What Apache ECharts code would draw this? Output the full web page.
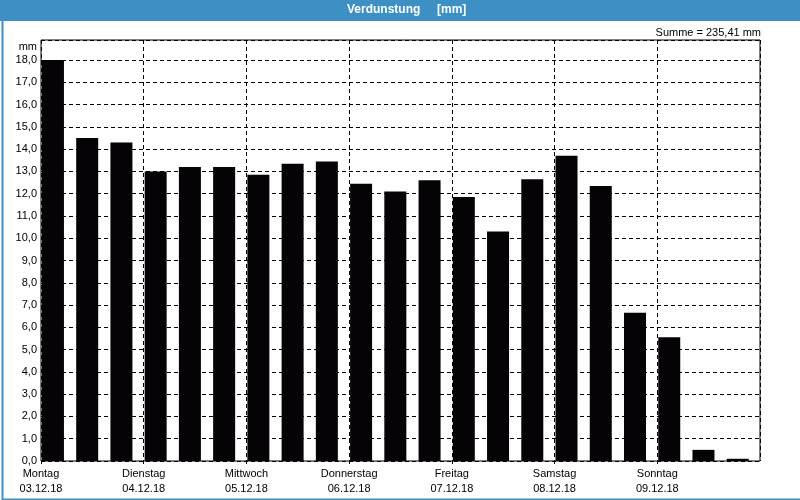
<!DOCTYPE html>
<html>
<head>
<meta charset="utf-8">
<script src="https://cdn.jsdelivr.net/npm/echarts@6/dist/echarts.min.js"></script>
<style>html,body{margin:0;padding:0;background:#fff}#c{width:800px;height:500px}</style>
</head>
<body>
<div id="c"></div>
<script>
// 21 eight-hour periods (3 per day)
const periods = ['1','2','3','4','5','6','7','8','9','10','11','12','13','14','15','16','17','18','19','20','21'];
const values = [18.0, 14.5, 14.3, 13.0, 13.2, 13.2, 12.85, 13.35, 13.45, 12.45, 12.1, 12.6, 11.85, 10.3, 12.65, 13.7, 12.35, 6.65, 5.55, 0.5, 0.1];
const dayNames = ['Montag', 'Dienstag', 'Mittwoch', 'Donnerstag', 'Freitag', 'Samstag', 'Sonntag'];
const dayDates = ['03.12.18', '04.12.18', '05.12.18', '06.12.18', '07.12.18', '08.12.18', '09.12.18'];
const yTicks = [0,1,2,3,4,5,6,7,8,9,10,11,12,13,14,15,16,17,18];
const titleText = 'Verdunstung     [mm]';
const sumText = 'Summe = 235,41 mm';
const unitText = 'mm';

const FONT = 'Liberation Sans';
const chart = echarts.init(document.getElementById('c'), null, {renderer: 'canvas'});
const dashed = {color: '#000', width: 1, type: [4, 3]};

chart.setOption({
  animation: false,
  backgroundColor: '#fdfefd',
  textStyle: {fontFamily: FONT},
  grid: {left: 41, right: 40, top: 40, bottom: 39, show: true, borderColor: '#000', borderWidth: 1, backgroundColor: 'transparent'},
  graphic: [
    {type: 'rect', left: 0, top: 0, z: -10, shape: {width: 800, height: 21}, style: {fill: '#3c90c3'}},
    {type: 'rect', left: 0, top: 0, z: -10, shape: {x: 0.5, y: 0.5, width: 799, height: 497}, style: {fill: null, stroke: '#3c90c3', lineWidth: 2}},
    {type: 'text', left: 347, top: 4, style: {text: titleText, fill: '#fff', font: 'bold 12px "' + FONT + '"'}},
    {type: 'text', right: 39, top: 27, style: {text: sumText, fill: '#000', font: '11px "' + FONT + '"'}},
    {type: 'text', right: 763, top: 41, style: {text: unitText, fill: '#000', font: '11px "' + FONT + '"'}}
  ],
  xAxis: [
    {type: 'category', data: periods, show: false, boundaryGap: true},
    {type: 'value', min: 0, max: periods.length, interval: 3, position: 'bottom',
     axisLine: {show: false},
     axisTick: {show: true, length: 3, lineStyle: {color: '#000'}},
     splitLine: {show: true, lineStyle: dashed},
     axisLabel: {
       show: true, margin: 5, color: '#000', fontSize: 11, fontFamily: FONT, lineHeight: 15,
       showMaxLabel: false,
       formatter: function (v) {
         const i = Math.round(v / 3);
         return i < dayNames.length ? dayNames[i] + '\n' + dayDates[i] : '';
       }
     }}
  ],
  yAxis: {
    type: 'value', min: yTicks[0], max: 18.9, interval: 1,
    axisLine: {show: false}, axisTick: {show: false},
    splitLine: {show: true, lineStyle: dashed},
    axisLabel: {
      color: '#000', fontSize: 11, fontFamily: FONT, margin: 4,
      formatter: function (v) {
        return yTicks.indexOf(v) >= 0 ? v.toFixed(1).replace('.', ',') : '';
      }
    }
  },
  series: [
    {type: 'bar', xAxisIndex: 0, data: values, barWidth: 22, barGap: '-53%', itemStyle: {color: '#050305'}},
    {type: 'bar', xAxisIndex: 0, data: values.map(() => null), barWidth: 22, itemStyle: {color: 'transparent'}, silent: true}
  ]
});
</script>
</body>
</html>
